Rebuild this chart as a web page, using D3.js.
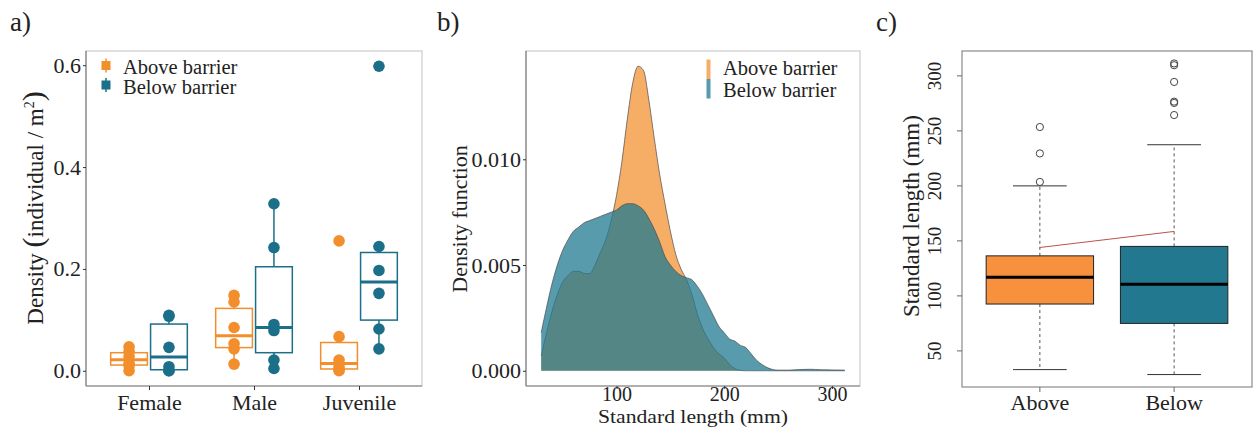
<!DOCTYPE html>
<html><head><meta charset="utf-8">
<script src="https://cdn.jsdelivr.net/npm/d3@7"></script>
<style>
body{margin:0;background:#fff}
svg{display:block}
text{font-family:"Liberation Serif","Times New Roman",serif;fill:#222}
</style>
</head><body>
<svg id="chart" width="1253" height="427"></svg>
<script>
// ---------- Panel a data: density (individual / m^2) ----------
const categories = ["Female", "Male", "Juvenile"];
const groupLabels = ["Above barrier", "Below barrier"];
const femaleAbove = [0, 0.010, 0.015, 0.028, 0.038, 0.047];
const femaleBelow = [0, 0.0, 0.008, 0.046, 0.107, 0.109];
const maleAbove = [0.013, 0.043, 0.053, 0.085, 0.135, 0.148];
const maleBelow = [0.0045, 0.021, 0.079, 0.091, 0.242, 0.328];
const juvenileAbove = [0, 0.002, 0.008, 0.021, 0.067, 0.255];
const juvenileBelow = [0.043, 0.082, 0.152, 0.197, 0.244, 0.598];
const densityTicks = [0, 0.2, 0.4, 0.6];

// ---------- Panel b data: density function of standard length ----------
const lengthGrid = [30,35,40,45,50,55,60,65,70,75,80,85,90,95,100,105,110,115,120,125,130,135,140,145,150,155,160,165,170,175,180,185,190,195,200,205,210,215,220,225,230,235,240,245,250,260,270,280,290,300,312];
const aboveDensity = [0.0007,0.0018,0.0028,0.0036,0.0042,0.0045,0.0047,0.0047,0.0046,0.0046,0.0050,0.0056,0.0062,0.0071,0.0083,0.0099,0.0119,0.0136,0.0144,0.0142,0.0128,0.0110,0.0093,0.0079,0.0066,0.0055,0.0048,0.0043,0.0036,0.0027,0.0020,0.0015,0.0011,0.0008,0.0006,0.0003,0.0001,0.00002,0,0,0,0,0,0,0,0,0,0,0,0,0];
const belowDensity = [0.0018,0.0030,0.0041,0.0050,0.0057,0.0062,0.0066,0.0068,0.0070,0.0071,0.0072,0.0073,0.0074,0.0075,0.0076,0.0078,0.0079,0.0079,0.0078,0.0076,0.0072,0.0067,0.0061,0.0054,0.0050,0.0047,0.0045,0.0044,0.0043,0.0040,0.0036,0.0031,0.0026,0.0021,0.0018,0.0015,0.0014,0.0012,0.0011,0.0008,0.0005,0.0003,0.00015,0.00006,0.00003,0.00003,0.00006,0.00007,0.00005,0.00004,0.00003];
const densityFnTicks = [0, 0.005, 0.010];
const lengthTicks = [100, 200, 300];

// ---------- Panel c data: standard length boxplots ----------
const sites = ["Above", "Below"];
const aboveFive = [33, 92.6, 117, 136.4, 200];    // low whisker, q1, median, q3, high whisker
const belowFive = [28.5, 75, 110.6, 145, 237.4];
const aboveOutliers = [203.6, 229.5, 253.5];
const belowOutliers = [264.4, 275.4, 276.6, 294.5, 309.7, 311.3];
const meanLine = [144, 158.6];
const slTicks = [50, 100, 150, 200, 250, 300];

// ---------- styling ----------
const ORANGE = "#F28E2B", TEAL = "#1B6F88";
const ORANGE_C = "#F8913D", TEAL_C = "#21788F";
const svg = d3.select("#chart");

// panel labels
[["a)", 10], ["b)", 437], ["c)", 876]].forEach(([t, x]) =>
  svg.append("text").attr("x", x).attr("y", 31).attr("font-size", 27).text(t));

function boxStats(vals) {
  const s = vals.slice().sort(d3.ascending);
  const q1 = d3.quantileSorted(s, 0.25), med = d3.quantileSorted(s, 0.5), q3 = d3.quantileSorted(s, 0.75);
  const iqr = q3 - q1;
  const lo = d3.min(s.filter(v => v >= q1 - 1.5 * iqr));
  const hi = d3.max(s.filter(v => v <= q3 + 1.5 * iqr));
  return {q1, med, q3, lo, hi};
}

// ================= Panel a =================
(function () {
  const L = 86, R = 422, T = 51, B = 386;
  const series = {
    Female: [femaleAbove, femaleBelow],
    Male: [maleAbove, maleBelow],
    Juvenile: [juvenileAbove, juvenileBelow]
  };
  const all = [].concat(femaleAbove, femaleBelow, maleAbove, maleBelow, juvenileAbove, juvenileBelow);
  const ext = d3.extent(all), pad = (ext[1] - ext[0]) * 0.05;
  const x = d3.scalePoint().domain(categories).range([L, R]).padding(0.6);
  const y = d3.scaleLinear().domain([ext[0] - pad, ext[1] + pad]).range([B, T]);
  const step = x.step();
  const g = svg.append("g");

  g.append("rect").attr("x", L).attr("y", T).attr("width", R - L).attr("height", B - T)
    .attr("fill", "none").attr("stroke", "#cfcfcf").attr("stroke-width", 1.3);

  const cols = [ORANGE, TEAL];
  const offs = [-0.19, 0.19];
  const bw = 0.35 * step;
  categories.forEach(cat => {
    series[cat].forEach((vals, gi) => {
      const cx = x(cat) + offs[gi] * step;
      const st = boxStats(vals);
      const col = cols[gi];
      g.append("line").attr("x1", cx).attr("x2", cx).attr("y1", y(st.q3)).attr("y2", y(st.hi))
        .attr("stroke", col).attr("stroke-width", 1.5);
      g.append("line").attr("x1", cx).attr("x2", cx).attr("y1", y(st.q1)).attr("y2", y(st.lo))
        .attr("stroke", col).attr("stroke-width", 1.5);
      g.append("rect").attr("x", cx - bw / 2).attr("width", bw)
        .attr("y", y(st.q3)).attr("height", y(st.q1) - y(st.q3))
        .attr("fill", "#fff").attr("stroke", col).attr("stroke-width", 1.5);
      g.append("line").attr("x1", cx - bw / 2).attr("x2", cx + bw / 2)
        .attr("y1", y(st.med)).attr("y2", y(st.med)).attr("stroke", col).attr("stroke-width", 3);
      g.selectAll(null).data(vals).enter().append("circle")
        .attr("cx", cx).attr("cy", d => y(d)).attr("r", 5.8).attr("fill", col);
    });
  });

  // axes
  const ya = g.append("g").attr("transform", `translate(${L},0)`)
    .call(d3.axisLeft(y).tickValues(densityTicks).tickFormat(d3.format(".1f")).tickSize(3).tickPadding(2));
  const xa = g.append("g").attr("transform", `translate(0,${B})`)
    .call(d3.axisBottom(x).tickSize(4).tickPadding(4));
  [ya, xa].forEach(a => {
    a.select(".domain").attr("stroke", "#808080").attr("stroke-width", 1.2);
    a.selectAll(".tick line").attr("stroke", "#333");
    a.selectAll("text").attr("font-family", "Liberation Serif, serif").attr("font-size", 22).attr("fill", "#333");
  });
  ya.select(".domain").attr("d", `M0,${T}V${B}`);
  xa.select(".domain").attr("d", `M${L},0H${R}`);

  // y title
  const t = svg.append("text").attr("transform", "translate(43,208) rotate(-90)")
    .attr("text-anchor", "middle").attr("font-size", 23);
  t.append("tspan").text("Density ");
  t.append("tspan").attr("font-size", 30).text("(");
  t.append("tspan").text("individual / m");
  t.append("tspan").attr("font-size", 14).attr("dy", -9).text("2");
  t.append("tspan").attr("font-size", 30).attr("dy", 9).text(")");

  // legend
  const ly = [65.5, 85];
  groupLabels.forEach((lab, i) => {
    g.append("line").attr("x1", 106).attr("x2", 106).attr("y1", ly[i] - 7).attr("y2", ly[i] + 7)
      .attr("stroke", cols[i]).attr("stroke-width", 1.5);
    g.append("rect").attr("x", 101.5).attr("y", ly[i] - 4.5).attr("width", 9).attr("height", 9).attr("fill", cols[i]);
    g.append("text").attr("x", 123).attr("y", ly[i] + 8.5).attr("font-size", 20.5).text(lab);
  });
})();

// ================= Panel b =================
(function () {
  const L = 526, R = 860, T = 51, B = 386;
  const xe = d3.extent(lengthGrid), xp = (xe[1] - xe[0]) * 0.05;
  const ymax = d3.max(aboveDensity.concat(belowDensity));
  const x = d3.scaleLinear().domain([xe[0] - xp, xe[1] + xp]).range([L, R]);
  const y = d3.scaleLinear().domain([-0.05 * ymax, 1.05 * ymax]).range([B, T]);
  const g = svg.append("g");

  g.append("rect").attr("x", L).attr("y", T).attr("width", R - L).attr("height", B - T)
    .attr("fill", "none").attr("stroke", "#cfcfcf").attr("stroke-width", 1.3);

  const area = d3.area().x((d, i) => x(lengthGrid[i])).y0(y(0)).y1(d => y(d)).curve(d3.curveMonotoneX);
  const line = d3.line().x((d, i) => x(lengthGrid[i])).y(d => y(d)).curve(d3.curveMonotoneX);
  [[aboveDensity, ORANGE, 0.72], [belowDensity, "#1F7A92", 0.75]].forEach(([arr, col, op]) => {
    g.append("path").attr("d", area(arr)).attr("fill", col).attr("fill-opacity", op);
    g.append("path").attr("d", line(arr)).attr("fill", "none").attr("stroke", "#4a4a4a").attr("stroke-width", 0.7);
  });

  const ya = g.append("g").attr("transform", `translate(${L},0)`)
    .call(d3.axisLeft(y).tickValues(densityFnTicks).tickFormat(d3.format(".3f")).tickSize(3).tickPadding(2));
  const xa = g.append("g").attr("transform", `translate(0,${B})`)
    .call(d3.axisBottom(x).tickValues(lengthTicks).tickFormat(d3.format("d")).tickSize(3).tickPadding(0));
  [ya, xa].forEach(a => {
    a.select(".domain").attr("stroke", "#808080").attr("stroke-width", 1.2);
    a.selectAll(".tick line").attr("stroke", "#333");
    a.selectAll("text").attr("font-family", "Liberation Serif, serif").attr("font-size", 22).attr("fill", "#333");
  });
  xa.selectAll("text").attr("font-size", 20).attr("dy", null).attr("y", 15);
  ya.select(".domain").attr("d", `M0,${T}V${B}`);
  xa.select(".domain").attr("d", `M${L},0H${R}`);

  svg.append("text").attr("transform", "translate(467,219) rotate(-90)")
    .attr("text-anchor", "middle").attr("font-size", 22).text("Density function");
  svg.append("text").attr("x", (L + R) / 2).attr("y", 422.7)
    .attr("text-anchor", "middle").attr("font-size", 19.5)
    .attr("textLength", 190).attr("lengthAdjust", "spacingAndGlyphs").text("Standard length (mm)");

  // legend
  const cols = [ORANGE, "#1F7A92"], ops = [0.72, 0.75];
  const ky = [59.5, 79];
  groupLabels.forEach((lab, i) => {
    g.append("rect").attr("x", 706.5).attr("y", ky[i]).attr("width", 4).attr("height", 19.5)
      .attr("fill", cols[i]).attr("fill-opacity", ops[i]);
    g.append("text").attr("x", 723).attr("y", [75, 97][i]).attr("font-size", 20.5).text(lab);
  });
})();

// ================= Panel c =================
(function () {
  const L = 962, R = 1252, T = 51, B = 387;
  const allV = aboveFive.concat(belowFive, aboveOutliers, belowOutliers);
  const e = d3.extent(allV), p = (e[1] - e[0]) * 0.04;
  const x = d3.scaleLinear().domain([0.42, 2.58]).range([L, R]);
  const y = d3.scaleLinear().domain([e[0] - p, e[1] + p]).range([B, T]);
  const g = svg.append("g");
  const five = [aboveFive, belowFive], outs = [aboveOutliers, belowOutliers], fills = [ORANGE_C, TEAL_C];
  const u = x(1) - x(0);

  sites.forEach((s, i) => {
    const cx = x(i + 1), f = five[i];
    g.append("line").attr("x1", cx).attr("x2", cx).attr("y1", y(f[3])).attr("y2", y(f[4]))
      .attr("stroke", "#555").attr("stroke-dasharray", "3,3");
    g.append("line").attr("x1", cx).attr("x2", cx).attr("y1", y(f[1])).attr("y2", y(f[0]))
      .attr("stroke", "#555").attr("stroke-dasharray", "3,3");
    [f[0], f[4]].forEach(v => g.append("line").attr("x1", cx - 0.2 * u).attr("x2", cx + 0.2 * u)
      .attr("y1", y(v)).attr("y2", y(v)).attr("stroke", "#333").attr("stroke-width", 1));
    g.append("rect").attr("x", cx - 0.4 * u).attr("width", 0.8 * u)
      .attr("y", y(f[3])).attr("height", y(f[1]) - y(f[3]))
      .attr("fill", fills[i]).attr("stroke", "#222").attr("stroke-width", 1);
    g.append("line").attr("x1", cx - 0.4 * u).attr("x2", cx + 0.4 * u)
      .attr("y1", y(f[2])).attr("y2", y(f[2])).attr("stroke", "#000").attr("stroke-width", 3);
    g.selectAll(null).data(outs[i]).enter().append("circle")
      .attr("cx", cx).attr("cy", d => y(d)).attr("r", 3.6)
      .attr("fill", "none").attr("stroke", "#444").attr("stroke-width", 1);
  });
  // red line connecting the group means
  g.append("line").attr("x1", x(1)).attr("x2", x(2)).attr("y1", y(meanLine[0])).attr("y2", y(meanLine[1]))
    .attr("stroke", "#C0504D").attr("stroke-width", 1);

  g.append("rect").attr("x", L).attr("y", T).attr("width", R - L).attr("height", B - T)
    .attr("fill", "none").attr("stroke", "#8a8a8a").attr("stroke-width", 1.2);

  // y axis
  slTicks.forEach(v => {
    g.append("line").attr("x1", L - 5).attr("x2", L).attr("y1", y(v)).attr("y2", y(v)).attr("stroke", "#666");
    g.append("text").attr("transform", `translate(941,${y(v)}) rotate(-90)`)
      .attr("text-anchor", "middle").attr("font-size", 19).attr("fill", "#333").text(v);
  });
  // x axis
  sites.forEach((s, i) => {
    g.append("line").attr("x1", x(i + 1)).attr("x2", x(i + 1)).attr("y1", B).attr("y2", B + 5).attr("stroke", "#666");
    g.append("text").attr("x", x(i + 1)).attr("y", 410).attr("text-anchor", "middle").attr("font-size", 22).text(s);
  });
  svg.append("text").attr("transform", "translate(919,216) rotate(-90)")
    .attr("text-anchor", "middle").attr("font-size", 23).text("Standard length (mm)");
})();
</script>
</body></html>
